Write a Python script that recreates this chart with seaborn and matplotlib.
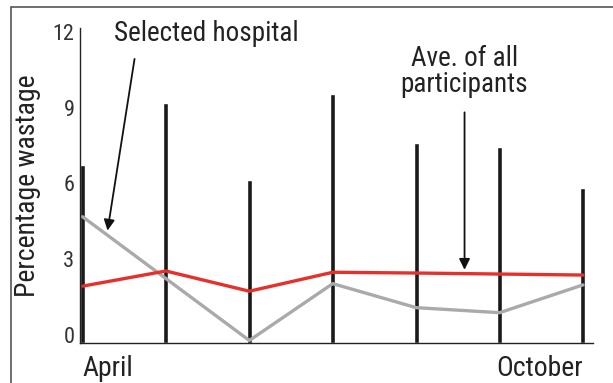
import matplotlib
matplotlib.use("Agg")
from matplotlib import pyplot as plt
from matplotlib.patches import Rectangle
import pandas as pd
import seaborn as sns

months = ["April", "May", "June", "July", "August", "September", "October"]
all_wastage = [7.05, 9.5, 6.45, 9.85, 7.9, 7.75, 6.15]
selected_hospital = [5.0, 2.55, 0.1, 2.35, 1.4, 1.2, 2.3]
ave_participants = [2.25, 2.85, 2.05, 2.8, 2.77, 2.73, 2.69]

df = pd.DataFrame({
    "month": months,
    "all": all_wastage,
    "hospital": selected_hospital,
    "average": ave_participants,
})

sns.set_style("white")
plt.rcParams["font.family"] = ["Roboto Condensed", "DejaVu Sans"]

fig = plt.figure(figsize=(6.13, 3.83), dpi=100)
ax = fig.add_axes([80 / 613, 1 - 343 / 383, 513 / 613, 315 / 383])

sns.barplot(data=df, x="month", y="all", color="#1a1a1a", width=0.06,
            saturation=1, ax=ax)
sns.lineplot(data=df, x="month", y="hospital", sort=False, color="#aaaaaa",
             lw=2.4, ax=ax)
sns.lineplot(data=df, x="month", y="average", sort=False, color="#e8302a",
             lw=2.4, ax=ax)

ax.set_xlim(-0.03, 6.12)
ax.set_ylim(0, 12.47)
ax.set_yticks([0, 3, 6, 9, 12])
ax.set_yticklabels(["0", "3", "6", "9", "12"], fontsize=16, color="#333333",
                   va="baseline")
ax.tick_params(axis="y", length=0, pad=4)
ax.set_xticks([0, 6])
ax.set_xticklabels(["April", "October"], fontsize=20, color="#222222")
xl = ax.get_xticklabels()
xl[0].set_ha("left")
xl[1].set_ha("right")
ax.tick_params(axis="x", length=0, pad=9)
ax.set_xlabel("")
ax.set_ylabel("Percentage wastage", fontsize=20, color="#222222", labelpad=8)

for s in ["top", "right"]:
    ax.spines[s].set_visible(False)
for s in ["left", "bottom"]:
    ax.spines[s].set_color("#222222")
    ax.spines[s].set_linewidth(1.0)

ax.annotate("Selected hospital", xy=(0.3, 4.45), xytext=(0.38, 11.7),
            fontsize=19.5, color="#222222", ha="left", va="bottom",
            arrowprops=dict(arrowstyle="-|>", color="#111111", lw=1.3,
                            mutation_scale=16, shrinkA=6, shrinkB=0,
                            relpos=(0.12, 0.0)))
ax.annotate("Ave. of all\nparticipants", xy=(4.58, 2.9), xytext=(4.58, 9.7),
            fontsize=19.5, color="#222222", ha="center", va="bottom",
            linespacing=0.95,
            arrowprops=dict(arrowstyle="-|>", color="#111111", lw=1.3,
                            mutation_scale=16, shrinkA=8, shrinkB=0))

fig.patches.append(Rectangle((11 / 613, -0.1), 1.2, 1 - 7 / 383 + 0.1,
                             transform=fig.transFigure, fill=False,
                             edgecolor="#555555", lw=1.2))

fig.savefig("out.png", dpi=100)
